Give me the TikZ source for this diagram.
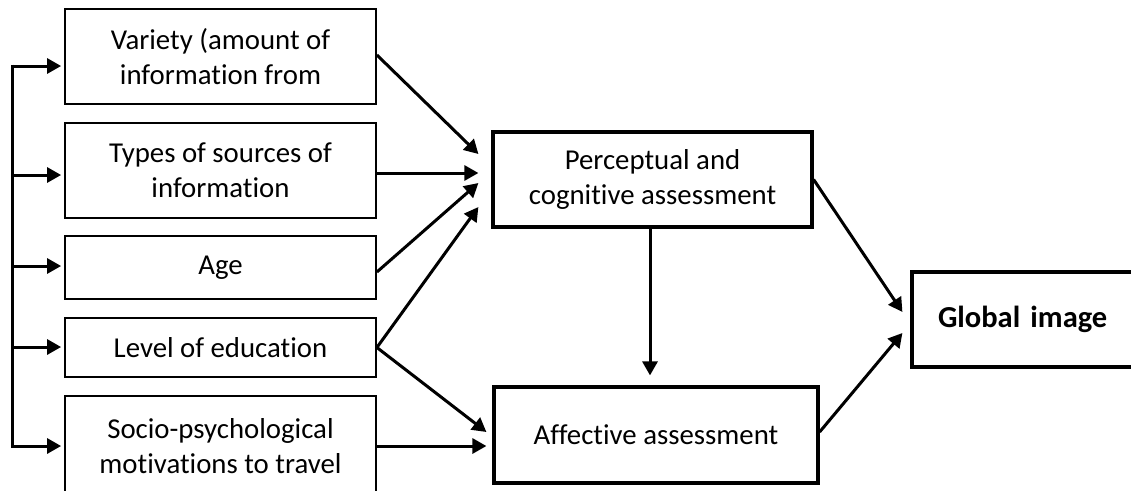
\documentclass[tikz,border=0pt]{standalone}
\usepackage{fontspec}
\setmainfont{Carlito}[Ligatures=NoCommon]
\usetikzlibrary{arrows.meta,calc}
\begin{document}
\begin{tikzpicture}[x=1pt,y=-1pt,
  smallbox/.style={draw,line width=1.8pt,align=center,inner sep=0pt,
    font=\fontsize{28.8}{35}\selectfont},
  bigbox/.style={draw,line width=3.2pt,align=center,inner sep=0pt,
    font=\fontsize{28.8}{35}\selectfont},
  arr/.style={line width=3pt,-{Triangle[length=14pt,width=15pt]}},
  bus/.style={line width=3pt}]
\useasboundingbox (0,0) rectangle (1131,490);
\clip (0,0) rectangle (1131,490);
% left boxes
\node[smallbox,minimum width=311pt,minimum height=95pt] (b1) at (220.5,56.5) {Variety (amount of\\information from};
\node[smallbox,minimum width=311pt,minimum height=95pt] (b2) at (220.5,170.5) {Types of sources of\\information};
\node[smallbox,minimum width=311pt,minimum height=63pt] (b3) at (220.5,267.5) {Age};
\node[smallbox,minimum width=311pt,minimum height=59pt] (b4) at (220.5,347.5) {Level of education};
\node[smallbox,minimum width=311pt,minimum height=100pt] (b5) at (220.5,446) {Socio-psychological\\motivations to travel};
% middle and right boxes
\node[bigbox,minimum width=319pt,minimum height=95pt] (P) at (652.5,179.5) {Perceptual and\\cognitive assessment};
\node[bigbox,minimum width=324pt,minimum height=96pt] (A) at (656,435) {Affective assessment};
\node[bigbox,minimum width=228pt,minimum height=95pt,font=\fontsize{30.5}{35}\selectfont\bfseries,text width=228pt,align=left] (G) at (1026,319.5) {\hspace*{26pt}Global image};
% bus coordinates
\coordinate (c1) at (12,66);
\coordinate (c2) at (12,175);
\coordinate (c3) at (12,266);
\coordinate (c4) at (12,347);
\coordinate (c5) at (12,446);
\draw[bus] ([yshift=1.5pt]c1) -- ([yshift=-1.5pt]c5);
\draw[arr] (c1) -- ([xshift=-3pt]b1.west |- c1);
\draw[arr] (c2) -- ([xshift=-3pt]b2.west |- c2);
\draw[arr] (c3) -- ([xshift=-3pt]b3.west |- c3);
\draw[arr] (c4) -- ([xshift=-3pt]b4.west |- c4);
\draw[arr] (c5) -- ([xshift=-3pt]b5.west |- c5);
% to perceptual
\draw[arr] ([yshift=1.5pt]b1.east) -- ([xshift=-13pt,yshift=25.5pt]P.west);
\draw[arr] ([yshift=-2.5pt]b2.east) -- ([xshift=-13pt,yshift=-2.5pt]P.west |- b2.east);
\draw[arr] ([yshift=-4.5pt]b3.east) -- ([xshift=-13pt,yshift=-3.5pt]P.west);
\draw[arr] (b4.east) -- ([xshift=-13pt,yshift=-27.5pt]P.west);
% to affective
\draw[arr] (b4.east) -- ([xshift=-6pt,yshift=3pt]A.west);
\draw[arr] (b5.east) -- ([xshift=-6pt]A.west |- b5.east);
% perceptual to affective
\draw[arr] ([xshift=-2.5pt]P.south) -- ([xshift=-2.5pt,yshift=10pt]P.south |- A.north);
% to global
\draw[arr] (P.east) -- ([xshift=-8pt,yshift=7.5pt]G.west);
\draw[arr] ([yshift=3pt]A.east) -- ([xshift=-8pt,yshift=-13.5pt]G.west);
\end{tikzpicture}
\end{document}
